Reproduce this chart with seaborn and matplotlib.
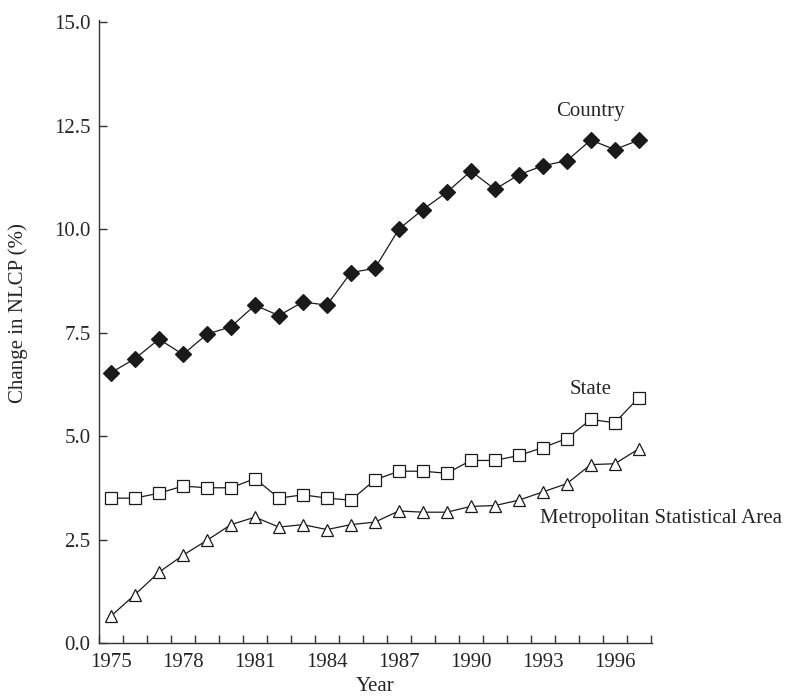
import matplotlib
matplotlib.use('Agg')
import matplotlib.pyplot as plt
import numpy as np
import pandas as pd
import seaborn as sns
from matplotlib.ticker import FixedLocator

years = list(range(1975, 1998))
country = [6.53, 6.87, 7.34, 6.97, 7.46, 7.64, 8.16, 7.91, 8.24, 8.16, 8.95, 9.05,
           10.0, 10.47, 10.89, 11.40, 10.96, 11.31, 11.53, 11.65, 12.15, 11.92, 12.15]
state = [3.50, 3.50, 3.62, 3.79, 3.75, 3.75, 3.97, 3.50, 3.58, 3.50, 3.45, 3.94,
         4.15, 4.15, 4.10, 4.41, 4.41, 4.53, 4.72, 4.94, 5.40, 5.32, 5.93]
msa = [0.65, 1.17, 1.71, 2.12, 2.48, 2.86, 3.04, 2.80, 2.86, 2.74, 2.86, 2.92,
       3.19, 3.16, 3.16, 3.30, 3.32, 3.45, 3.65, 3.85, 4.31, 4.33, 4.69]
year_labels = ['1975', '1978', '1981', '1984', '1987', '1990', '1993', '1996']
y_ticks = [0.0, 2.5, 5.0, 7.5, 10.0, 12.5, 15.0]

df = pd.DataFrame({'Year': years, 'Country': country, 'State': state,
                   'Metropolitan Statistical Area': msa})

sns.set_style('ticks')
plt.rcParams['font.family'] = ['Liberation Serif', 'DejaVu Serif']

fig = plt.figure(figsize=(8.03, 6.96), dpi=100)
ax = fig.add_axes([99 / 803, 1 - 643 / 696, 553 / 803, 623 / 696])

line_kw = dict(color='#1a1a1a', linewidth=0.9, markeredgewidth=0.9,
               markeredgecolor='#1a1a1a', legend=False)
sns.lineplot(data=df, x='Year', y='Country', marker='D', markersize=8.5,
             markerfacecolor='#1a1a1a', ax=ax, **line_kw)
sns.lineplot(data=df, x='Year', y='State', marker='s', markersize=8,
             markerfacecolor='white', ax=ax, **line_kw)
sns.lineplot(data=df, x='Year', y='Metropolitan Statistical Area', marker='^',
             markersize=9, markerfacecolor='white', ax=ax, **line_kw)

ax.set_xlim(1974.5, 1997.55)
ax.set_ylim(0, 15.05)
sns.despine(ax=ax)
for s in ['left', 'bottom']:
    ax.spines[s].set_linewidth(1.0)
    ax.spines[s].set_color('#333333')

ax.xaxis.set_major_locator(FixedLocator([int(y) for y in year_labels]))
ax.set_xticklabels(year_labels)
ax.xaxis.set_minor_locator(FixedLocator(np.arange(1974.5, 1998, 1.0)))
ax.tick_params(axis='x', which='major', length=0, pad=7, labelsize=15)
ax.tick_params(axis='x', which='minor', direction='in', length=6, width=1.0, color='#333333')
ax.set_yticks(y_ticks)
ax.set_yticklabels([f'{v:.1f}' for v in y_ticks])
ax.tick_params(axis='y', direction='in', length=6, width=1.0, pad=6, labelsize=15, color='#333333')

ax.set_xlabel('Year', fontsize=15, labelpad=4)
ax.set_ylabel('Change in NLCP (%)', fontsize=15)
ax.yaxis.set_label_coords(-0.128, 0.53)

ax.text(1995.0, 12.85, 'Country', fontsize=15, ha='center', va='center')
ax.text(1995.0, 6.13, 'State', fontsize=15, ha='center', va='center')
ax.text(1992.87, 3.0, 'Metropolitan Statistical Area', fontsize=15, ha='left',
        va='center', clip_on=False)

fig.savefig('out.png', dpi=100)
